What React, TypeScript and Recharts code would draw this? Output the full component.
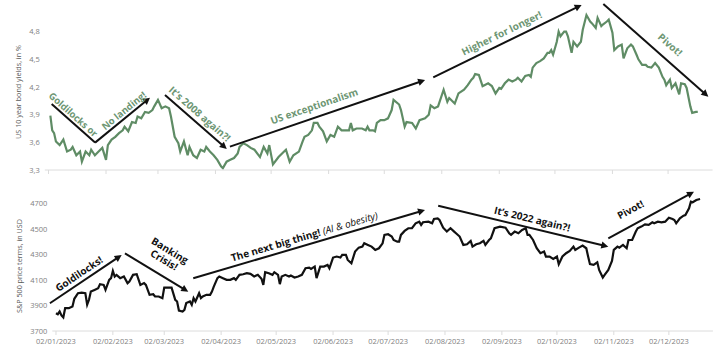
import { LineChart, Line, XAxis, YAxis, ReferenceLine } from 'recharts';

const FONT = '"Open Sans", "DejaVu Sans", sans-serif';
const GREEN = '#5f8c65';
const GREEN_TEXT = '#6d9673';

// x axis: day of year 2023, ticks on the 2nd of each month
const monthTicks = [2, 33, 61, 92, 122, 153, 183, 214, 245, 275, 306, 336];
const monthLabels = [
  '02/01/2023', '02/02/2023', '02/03/2023', '02/04/2023', '02/05/2023', '02/06/2023',
  '02/07/2023', '02/08/2023', '02/09/2023', '02/10/2023', '02/11/2023', '02/12/2023',
];
const yieldTicks = [3.3, 3.6, 3.9, 4.2, 4.5, 4.8];
const spxTicks = [3700, 3900, 4100, 4300, 4500, 4700];

// [day of year, US 10y yield %]
const yieldSeries: [number, number][] = [
  [3, 3.89], [4, 3.73], [5, 3.7], [6, 3.61], [8, 3.57], [10, 3.63], [12, 3.5], [14, 3.52], [15, 3.55], [17, 3.46],
  [19, 3.5], [20, 3.39], [22, 3.5], [24, 3.46], [25, 3.52], [27, 3.46], [29, 3.5], [31, 3.54], [33, 3.41], [34, 3.57],
  [36, 3.63], [38, 3.66], [40, 3.7], [42, 3.73], [43, 3.77], [45, 3.72], [47, 3.82], [49, 3.81], [50, 3.88], [52, 3.86],
  [54, 3.93], [56, 3.92], [58, 3.95], [59, 3.99], [61, 4.06], [63, 3.97], [65, 3.99], [67, 3.97], [68, 3.88], [70, 3.66],
  [72, 3.59], [73, 3.5], [75, 3.61], [77, 3.46], [78, 3.55], [80, 3.46], [82, 3.43], [84, 3.52], [86, 3.5], [87, 3.55],
  [89, 3.5], [91, 3.46], [93, 3.41], [95, 3.34], [96, 3.32], [98, 3.39], [100, 3.41], [102, 3.43], [104, 3.48], [105, 3.55],
  [107, 3.59], [109, 3.57], [111, 3.54], [113, 3.52], [116, 3.44], [118, 3.55], [120, 3.48], [121, 3.57], [123, 3.36], [126, 3.44],
  [129, 3.5], [130, 3.52], [132, 3.39], [134, 3.46], [137, 3.5], [139, 3.61], [140, 3.66], [142, 3.68], [144, 3.73], [145, 3.81],
  [147, 3.81], [148, 3.77], [150, 3.72], [152, 3.61], [154, 3.68], [156, 3.66], [158, 3.77], [160, 3.73], [162, 3.73], [164, 3.73],
  [165, 3.81], [166, 3.73], [168, 3.75], [171, 3.75], [173, 3.73], [174, 3.77], [175, 3.73], [177, 3.73], [178, 3.72], [179, 3.81],
  [181, 3.84], [183, 3.84], [185, 3.86], [187, 3.95], [188, 4.06], [191, 4.01], [192, 3.95], [194, 3.77], [195, 3.82], [198, 3.81],
  [200, 3.75], [202, 3.84], [205, 3.86], [207, 3.9], [208, 4.0], [210, 3.97], [212, 3.99], [215, 4.17], [217, 4.04], [218, 4.08],
  [221, 4.02], [223, 4.13], [226, 4.17], [228, 4.22], [230, 4.28], [231, 4.3], [232, 4.34], [234, 4.33], [236, 4.21], [237, 4.22],
  [239, 4.24], [241, 4.21], [243, 4.13], [245, 4.19], [246, 4.18], [248, 4.24], [250, 4.28], [252, 4.26], [254, 4.28], [255, 4.3],
  [257, 4.26], [259, 4.32], [261, 4.33], [262, 4.31], [263, 4.41], [265, 4.46], [267, 4.48], [269, 4.51], [271, 4.57], [272, 4.57],
  [273, 4.6], [274, 4.55], [276, 4.69], [277, 4.8], [278, 4.75], [280, 4.8], [281, 4.8], [282, 4.75], [284, 4.57], [285, 4.69],
  [287, 4.64], [289, 4.69], [290, 4.82], [292, 4.98], [294, 4.91], [295, 4.89], [297, 4.84], [298, 4.95], [300, 4.86], [301, 4.88],
  [303, 4.91], [304, 4.93], [306, 4.79], [307, 4.6], [309, 4.64], [311, 4.66], [312, 4.51], [314, 4.62], [316, 4.66], [317, 4.64],
  [319, 4.55], [320, 4.5], [322, 4.44], [324, 4.44], [325, 4.42], [327, 4.41], [329, 4.46], [331, 4.41], [333, 4.31], [334, 4.28],
  [335, 4.22], [337, 4.28], [338, 4.19], [340, 4.24], [342, 4.12], [343, 4.24], [345, 4.23], [346, 4.19], [348, 3.99], [349, 3.92],
  [351, 3.93], [352, 3.93],
];

// [day of year, S&P 500 in USD]
const spxSeries: [number, number][] = [
  [2, 3840], [3, 3832], [4, 3853], [5, 3822], [6, 3806], [7, 3879], [9, 3879], [11, 3893], [12, 3953], [14, 3997],
  [16, 4002], [18, 3997], [19, 3906], [20, 3945], [21, 4010], [23, 4023], [25, 4036], [26, 4068], [28, 4062], [29, 4023],
  [31, 4102], [32, 4115], [33, 4172], [34, 4128], [35, 4141], [37, 4115], [39, 4128], [41, 4076], [42, 4089], [44, 4141],
  [46, 4146], [48, 4062], [50, 4076], [51, 4062], [53, 3984], [55, 3989], [56, 3971], [58, 3971], [60, 3958], [61, 4041],
  [63, 4041], [65, 4041], [67, 3945], [68, 3932], [69, 3861], [71, 3853], [72, 3866], [73, 3919], [75, 3932], [76, 3906],
  [77, 3958], [78, 3932], [80, 3997], [81, 3958], [82, 3971], [84, 3984], [86, 3984], [87, 4010], [88, 4049], [90, 4115],
  [91, 4128], [93, 4115], [95, 4102], [97, 4102], [99, 4115], [100, 4102], [102, 4141], [104, 4146], [106, 4154], [108, 4149],
  [110, 4128], [112, 4141], [114, 4110], [115, 4062], [116, 4162], [118, 4154], [120, 4141], [121, 4162], [123, 4141], [124, 4068],
  [125, 4128], [127, 4141], [129, 4128], [130, 4136], [132, 4120], [134, 4128], [136, 4141], [138, 4193], [140, 4198], [141, 4188],
  [143, 4206], [144, 4115], [146, 4206], [148, 4206], [150, 4219], [151, 4193], [153, 4277], [155, 4285], [157, 4277], [158, 4298],
  [160, 4298], [161, 4258], [163, 4232], [165, 4324], [167, 4355], [169, 4363], [170, 4389], [172, 4376], [174, 4363], [176, 4337],
  [178, 4350], [180, 4389], [181, 4455], [183, 4460], [185, 4442], [186, 4415], [188, 4402], [189, 4402], [190, 4455], [192, 4486],
  [194, 4507], [196, 4507], [198, 4546], [200, 4559], [201, 4533], [202, 4554], [205, 4559], [207, 4546], [208, 4580], [210, 4585],
  [211, 4572], [213, 4512], [215, 4481], [217, 4507], [219, 4481], [220, 4468], [222, 4442], [224, 4376], [226, 4381], [228, 4408],
  [229, 4363], [231, 4381], [233, 4389], [235, 4408], [236, 4376], [238, 4415], [239, 4428], [241, 4507], [244, 4520], [247, 4512],
  [249, 4468], [250, 4455], [252, 4481], [254, 4468], [256, 4494], [258, 4507], [259, 4455], [260, 4455], [262, 4415], [264, 4350],
  [266, 4311], [268, 4324], [269, 4285], [271, 4285], [273, 4266], [275, 4285], [276, 4225], [278, 4285], [280, 4311], [282, 4329],
  [284, 4363], [285, 4337], [287, 4355], [289, 4371], [291, 4350], [292, 4285], [293, 4225], [295, 4219], [297, 4240], [298, 4180],
  [300, 4120], [301, 4141], [303, 4180], [305, 4251], [306, 4337], [308, 4363], [309, 4355], [311, 4376], [313, 4350], [314, 4415],
  [316, 4415], [318, 4481], [319, 4507], [321, 4520], [323, 4538], [325, 4533], [327, 4554], [328, 4546], [330, 4559], [332, 4554],
  [334, 4559], [336, 4590], [338, 4580], [339, 4572], [340, 4546], [342, 4585], [344, 4606], [345, 4611], [347, 4664], [348, 4716],
  [349, 4711], [351, 4729], [353, 4737],
];

type Note = {
  lines: string[];
  aside?: string;
  from: [number, number];
  to: [number, number];
  head: boolean;
  t: number; // where the text sits along the arrow (0..1)
  off: number; // baseline distance above the arrow
  size?: number;
};

const yieldNotes: Note[] = [
  { lines: ['Goldilocks or'], from: [3.7, 4.016], to: [27.1, 3.597], head: false, t: 0.4, off: 3, size: 9.5 },
  { lines: ['No landing!'], from: [27.1, 3.597], to: [56.7, 4.084], head: true, t: 0.6, off: 3, size: 9.5 },
  { lines: ['It’s 2008 again?!'], from: [64.8, 4.113], to: [98.1, 3.528], head: true, t: 0.47, off: 5 },
  { lines: ['US exceptionalism'], from: [99.8, 3.553], to: [205, 4.276], head: true, t: 0.45, off: 7.5 },
  { lines: ['Higher for longer!'], from: [209.4, 4.305], to: [289.4, 5.09], head: true, t: 0.49, off: 6 },
  { lines: ['Pivot!'], from: [301.1, 5.1], to: [357.7, 4.095], head: true, t: 0.55, off: 10 },
];

const spxNotes: Note[] = [
  { lines: ['Goldilocks!'], from: [-1.3, 3918], to: [37.8, 4297], head: true, t: 0.47, off: 4.5 },
  { lines: ['Banking', 'Crisis!'], from: [39.6, 4310], to: [74.1, 4009], head: true, t: 0.5, off: 11 },
  { lines: ['The next big thing!'], aside: '(AI & obesity)', from: [76.8, 4114], to: [203.1, 4650], head: true, t: 0.49, off: 5 },
  { lines: ['It’s 2022 again?!'], from: [210.3, 4684], to: [303, 4362], head: true, t: 0.54, off: 5.5 },
  { lines: ['Pivot!'], from: [303, 4428], to: [349.7, 4794], head: true, t: 0.34, off: 11 },
];

const yieldData = yieldSeries.map(([d, v]) => ({ d, v }));
const spxData = spxSeries.map(([d, v]) => ({ d, v }));

function Arrow({ x1, y1, x2, y2, note, color }: any) {
  const dx = x2 - x1;
  const dy = y2 - y1;
  const len = Math.hypot(dx, dy);
  const ux = dx / len;
  const uy = dy / len;
  const angle = (Math.atan2(dy, dx) * 180) / Math.PI;
  const headLen = 7;
  const headHalf = 3.6;
  const bx = x2 - ux * headLen;
  const by = y2 - uy * headLen;
  const tx = x1 + dx * note.t;
  const ty = y1 + dy * note.t;
  const n = note.lines.length;
  return (
    <g>
      <line
        x1={x1}
        y1={y1}
        x2={note.head ? bx + ux : x2}
        y2={note.head ? by + uy : y2}
        stroke="#111"
        strokeWidth={2}
      />
      {note.head && (
        <polygon
          points={`${x2},${y2} ${bx - uy * headHalf},${by + ux * headHalf} ${bx + uy * headHalf},${by - ux * headHalf}`}
          fill="#111"
        />
      )}
      <text
        transform={`translate(${tx},${ty}) rotate(${angle})`}
        textAnchor="middle"
        fontFamily={FONT}
        fontSize={note.size ?? 10}
        fontWeight={700}
        fill={color}
      >
        {note.lines.map((l: string, i: number) => (
          <tspan key={i} x={0} y={-note.off - (n - 1 - i) * 11}>
            {l}
            {i === n - 1 && note.aside ? (
              <tspan fontStyle="italic" fontWeight={400}>{' ' + note.aside}</tspan>
            ) : null}
          </tspan>
        ))}
      </text>
    </g>
  );
}

const tickStyle = { fontSize: 7.5, fill: '#808080', fontFamily: FONT };

function AxisTitle({ text, x, y }: { text: string; x: number; y: number }) {
  return (
    <div
      style={{
        position: 'absolute',
        left: x,
        top: y,
        transform: 'translate(-50%, -50%) rotate(-90deg)',
        whiteSpace: 'nowrap',
        fontSize: 7.2,
        color: '#595959',
        fontFamily: FONT,
      }}
    >
      {text}
    </div>
  );
}

export default function App() {
  return (
    <div style={{ position: 'absolute', left: 0, top: 0, width: 720, height: 354, background: '#fff', overflow: 'hidden' }}>
      {/* bond yields */}
      <div style={{ position: 'absolute', left: 0, top: 0 }}>
        <LineChart width={720} height={178} data={yieldData} margin={{ top: 4, right: 7.4, bottom: 0, left: 6.8 }} style={{ overflow: 'visible' }}>
          <XAxis
            dataKey="d"
            type="number"
            domain={[0, 360]}
            ticks={monthTicks}
            interval={0}
            height={8}
            tickFormatter={() => ''}
            tickSize={4}
            stroke="#dcdcdc"
            tick={tickStyle}
          />
          <YAxis
            type="number"
            domain={[3.3, 5.1]}
            ticks={yieldTicks}
            interval={0}
            width={38}
            axisLine={false}
            tickLine={false}
            tickSize={4}
            tickMargin={1}
            tick={tickStyle}
            tickFormatter={(v: number) => v.toFixed(1).replace('.', ',')}
            allowDataOverflow
          />
          <Line type="linear" dataKey="v" stroke={GREEN} strokeWidth={2.2} dot={false} isAnimationActive={false} />
          {yieldNotes.map((a, i) => (
            <ReferenceLine
              key={i}
              ifOverflow="visible"
              segment={[{ x: a.from[0], y: a.from[1] }, { x: a.to[0], y: a.to[1] }]}
              shape={(p: any) => <Arrow {...p} note={a} color={GREEN_TEXT} />}
            />
          ))}
        </LineChart>
      </div>
      <AxisTitle text="US 10 year bond yields, in %" x={18} y={92} />

      {/* S&P 500 */}
      <div style={{ position: 'absolute', left: 0, top: 178 }}>
        <LineChart width={720} height={176} data={spxData} margin={{ top: 6.6, right: 7.1, bottom: 3, left: 8.3 }} style={{ overflow: 'visible' }}>
          <XAxis
            dataKey="d"
            type="number"
            domain={[0, 360]}
            ticks={monthTicks}
            interval={0}
            height={20}
            tickSize={4}
            tickMargin={4}
            stroke="#dcdcdc"
            tick={tickStyle}
            tickFormatter={(v: number) => monthLabels[monthTicks.indexOf(v)] ?? ''}
          />
          <YAxis
            type="number"
            domain={[3700, 4850]}
            ticks={spxTicks}
            interval={0}
            width={44}
            axisLine={false}
            tickLine={false}
            tickSize={3}
            tickMargin={2}
            tick={tickStyle}
            allowDataOverflow
          />
          <Line type="linear" dataKey="v" stroke="#111" strokeWidth={2.2} dot={false} isAnimationActive={false} />
          {spxNotes.map((a, i) => (
            <ReferenceLine
              key={i}
              ifOverflow="visible"
              segment={[{ x: a.from[0], y: a.from[1] }, { x: a.to[0], y: a.to[1] }]}
              shape={(p: any) => <Arrow {...p} note={a} color="#111" />}
            />
          ))}
        </LineChart>
      </div>
      <AxisTitle text="S&P 500 price terms, in USD" x={19.3} y={266} />
    </div>
  );
}
